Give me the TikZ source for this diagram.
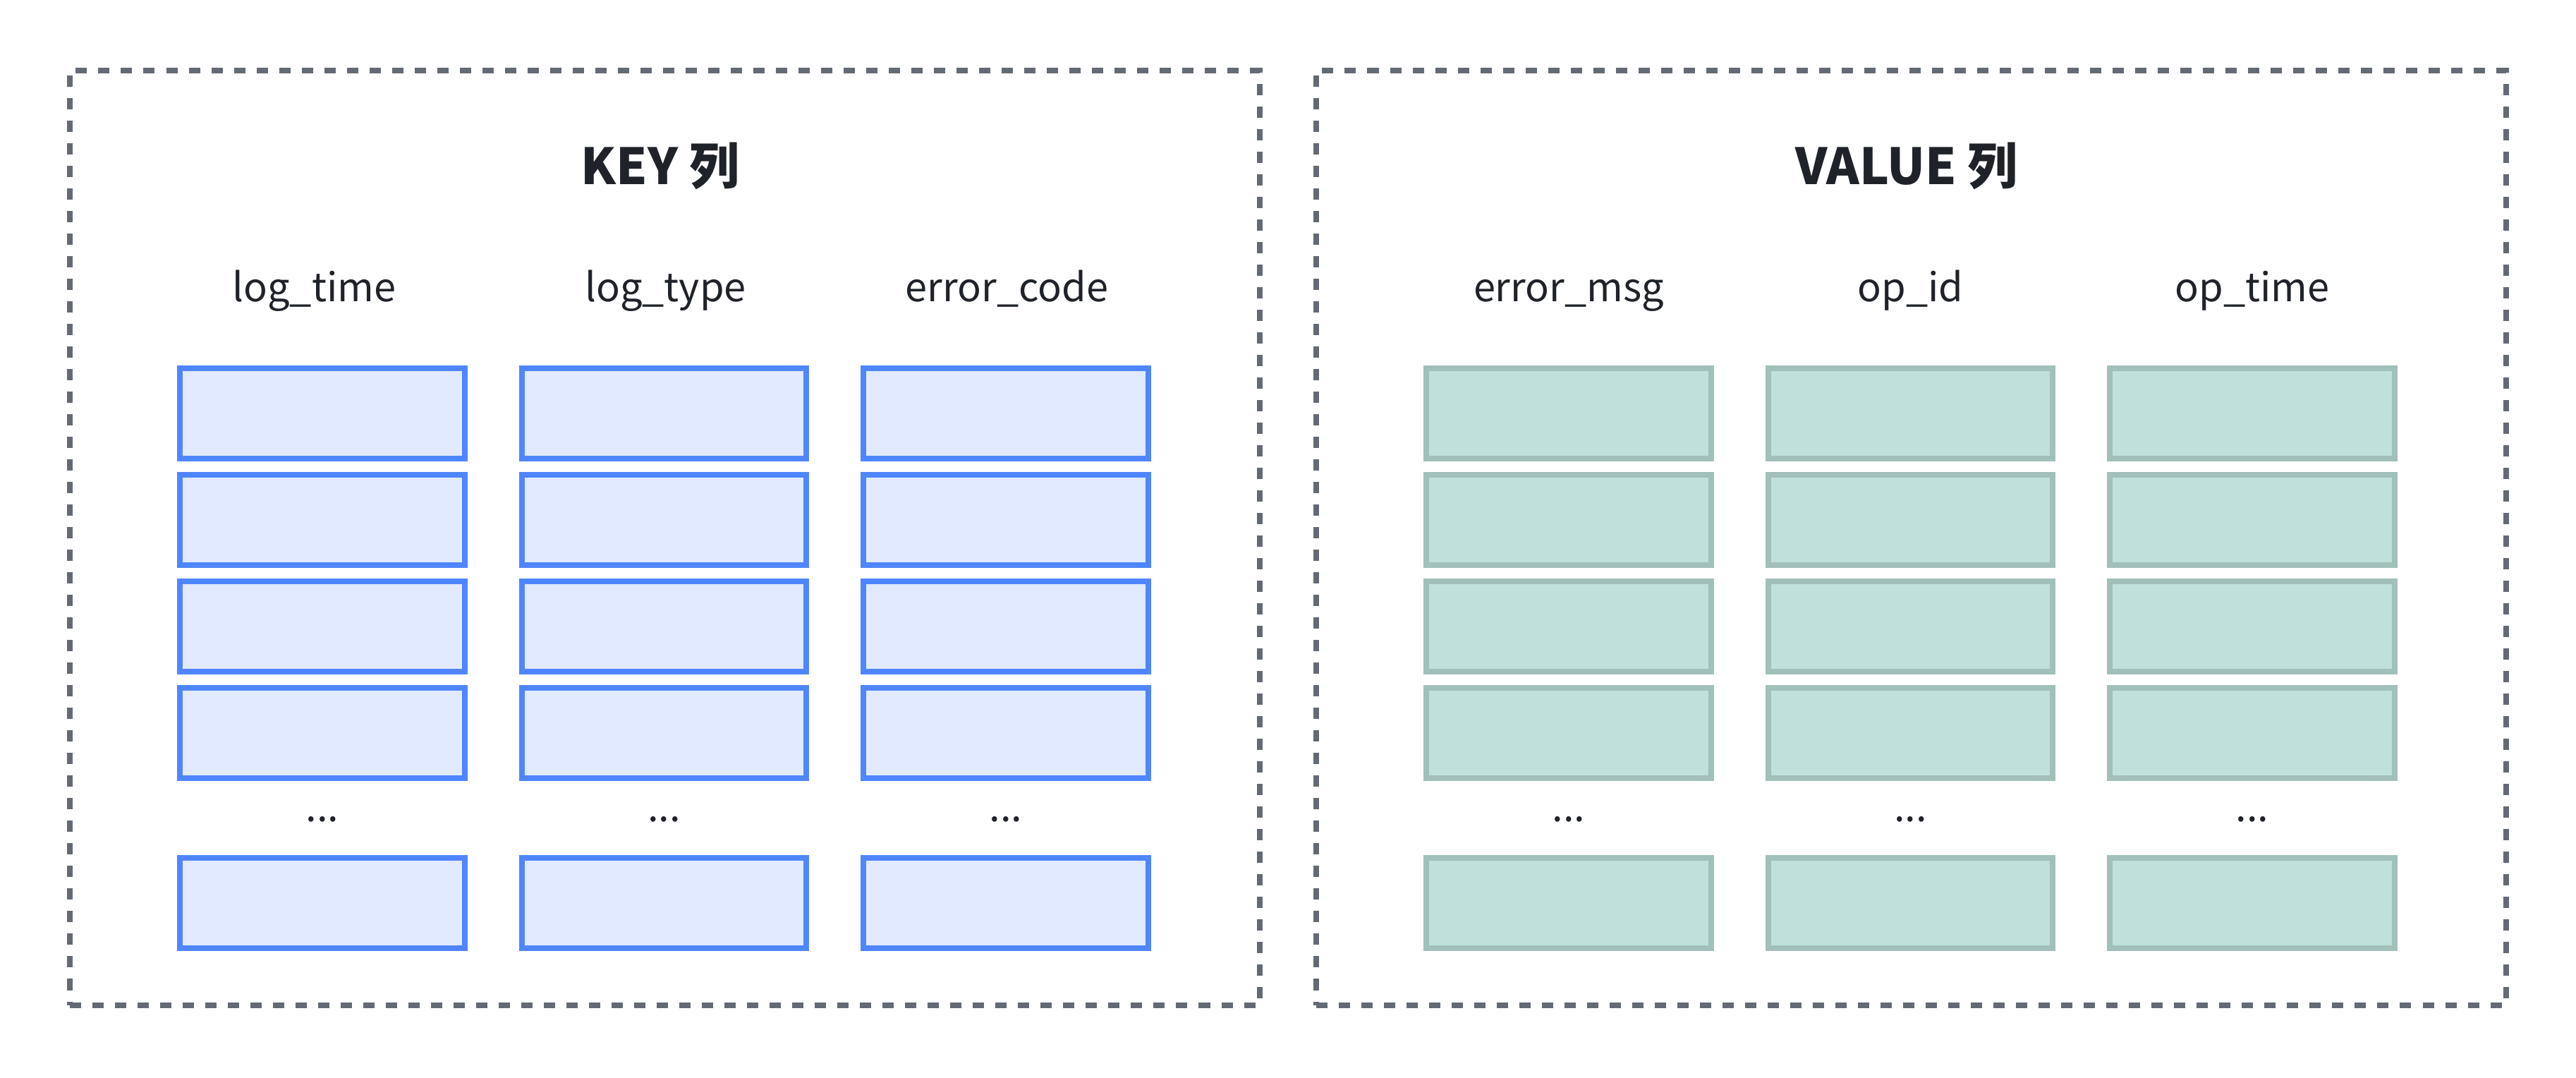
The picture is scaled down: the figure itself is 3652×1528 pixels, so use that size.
\documentclass[tikz,border=0pt]{standalone}
\usepackage{fontspec}
\setmainfont{Noto Sans CJK SC}
\usetikzlibrary{positioning}
\definecolor{frame-gray}{HTML}{646A73}
\definecolor{ink}{HTML}{1F2329}
\definecolor{key-line}{HTML}{4F86FF}
\definecolor{key-fill}{HTML}{E1EAFF}
\definecolor{val-line}{HTML}{A1C0B9}
\definecolor{val-fill}{HTML}{BFE1DA}

\begin{document}
\begin{tikzpicture}[x=0.01cm, y=-0.01cm, line width=0.08cm,
    group/.style={draw=frame-gray, dash pattern=on 0.16cm off 0.16cm, minimum width=16.86cm, minimum height=13.25cm, inner sep=0pt},
    title/.style={text=ink, anchor=base, font=\fontsize{20.1pt}{24pt}\selectfont\bfseries},
    colname/.style={text=ink, anchor=base, font=\fontsize{15.9pt}{19pt}\selectfont},
    keycell/.style={draw=key-line, fill=key-fill, minimum width=4.036cm, minimum height=1.276cm, inner sep=0pt},
    valcell/.style={draw=val-line, fill=val-fill, minimum width=4.036cm, minimum height=1.276cm, inner sep=0pt}]
    \useasboundingbox (0,0) rectangle (3652,1528);
    % two column groups
    \node[group] (keys) at (942,762.5) {};
    \node[group] (vals) at (2709,762.5) {};
    \node[title] (keytitle) at (936,262) {KEY 列};
    \node[title] (valtitle) at (2703,262) {VALUE 列};
    % key columns
    \foreach \x/\lx/\lbl [count=\i] in {457/445.5/log\_time, 941.5/943.5/log\_type, 1426/1427.5/error\_code} {
        \node[colname] (kname\i) at (\lx,428) {\lbl};
        \foreach \r/\y in {1/586, 2/737, 3/888, 4/1039, 5/1280}
            \node[keycell] (k\i-\r) at (\x,\y) {};
        \node[colname] (kdots\i) at (\x,1164) {...};
    }
    % value columns
    \foreach \x/\lbl [count=\i] in {2224/error\_msg, 2708.5/op\_id, 3193/op\_time} {
        \node[colname] (vname\i) at (\x,428) {\lbl};
        \foreach \r/\y in {1/586, 2/737, 3/888, 4/1039, 5/1280}
            \node[valcell] (v\i-\r) at (\x,\y) {};
        \node[colname] (vdots\i) at (\x,1164) {...};
    }
\end{tikzpicture}
\end{document}
